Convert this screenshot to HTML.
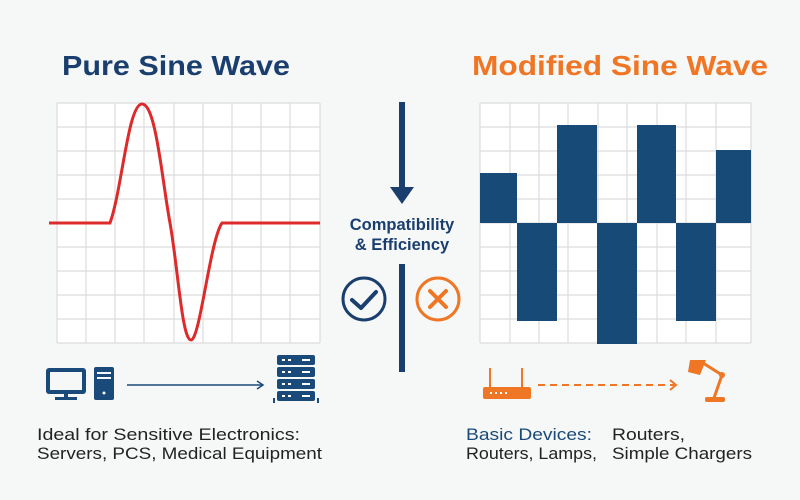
<!DOCTYPE html>
<html><head><style>
body{margin:0;width:800px;height:500px;background:#f6f7f7;overflow:hidden;}
svg{display:block}
</style></head><body>
<svg width="800" height="500" viewBox="0 0 800 500" xmlns="http://www.w3.org/2000/svg">
<rect width="800" height="500" fill="#f6f7f7"/>
<g font-family="Liberation Sans, sans-serif">
<text x="62" y="75" font-size="28" font-weight="bold" fill="#1a3f6e" textLength="228" lengthAdjust="spacingAndGlyphs">Pure Sine Wave</text>
<text x="472" y="75" font-size="28" font-weight="bold" fill="#ef7624" textLength="296" lengthAdjust="spacingAndGlyphs">Modified Sine Wave</text>
</g>
<!-- left grid -->
<rect x="57" y="103" width="263" height="240" fill="#fff"/>
<g stroke="#dcdcdc" stroke-width="1.2">
<line x1="57" y1="103" x2="57" y2="343"/><line x1="86" y1="103" x2="86" y2="343"/><line x1="115" y1="103" x2="115" y2="343"/><line x1="144" y1="103" x2="144" y2="343"/><line x1="174" y1="103" x2="174" y2="343"/><line x1="203" y1="103" x2="203" y2="343"/><line x1="232" y1="103" x2="232" y2="343"/><line x1="261" y1="103" x2="261" y2="343"/><line x1="290" y1="103" x2="290" y2="343"/><line x1="320" y1="103" x2="320" y2="343"/>
<line x1="57" y1="103" x2="320" y2="103"/><line x1="57" y1="127" x2="320" y2="127"/><line x1="57" y1="151" x2="320" y2="151"/><line x1="57" y1="175" x2="320" y2="175"/><line x1="57" y1="199" x2="320" y2="199"/><line x1="57" y1="247" x2="320" y2="247"/><line x1="57" y1="271" x2="320" y2="271"/><line x1="57" y1="295" x2="320" y2="295"/><line x1="57" y1="319" x2="320" y2="319"/><line x1="57" y1="343" x2="320" y2="343"/>
</g>
<path d="M49 223 L110 223 C122 190,128 104,142 104 C156 104,162 180,170 223 C178 268,182 340,191 340 C200 340,210 240,222 223 L320 223" fill="none" stroke="#dd2a2a" stroke-width="3"/>
<!-- right grid -->
<rect x="480" y="103" width="271" height="240" fill="#fff"/>
<g stroke="#dcdcdc" stroke-width="1.2">
<line x1="480" y1="103" x2="480" y2="343"/><line x1="510" y1="103" x2="510" y2="343"/><line x1="539" y1="103" x2="539" y2="343"/><line x1="568" y1="103" x2="568" y2="343"/><line x1="598" y1="103" x2="598" y2="343"/><line x1="627" y1="103" x2="627" y2="343"/><line x1="657" y1="103" x2="657" y2="343"/><line x1="686" y1="103" x2="686" y2="343"/><line x1="716" y1="103" x2="716" y2="343"/><line x1="751" y1="103" x2="751" y2="343"/>
<line x1="480" y1="103" x2="751" y2="103"/><line x1="480" y1="127" x2="751" y2="127"/><line x1="480" y1="151" x2="751" y2="151"/><line x1="480" y1="175" x2="751" y2="175"/><line x1="480" y1="199" x2="751" y2="199"/><line x1="480" y1="223" x2="751" y2="223"/><line x1="480" y1="247" x2="751" y2="247"/><line x1="480" y1="271" x2="751" y2="271"/><line x1="480" y1="295" x2="751" y2="295"/><line x1="480" y1="319" x2="751" y2="319"/><line x1="480" y1="343" x2="751" y2="343"/>
</g>
<g fill="#184a78">
<rect x="480" y="173" width="37" height="50"/>
<rect x="517" y="223" width="40" height="98"/>
<rect x="557" y="125" width="40" height="98"/>
<rect x="597" y="223" width="40" height="121"/>
<rect x="637" y="125" width="39" height="98"/>
<rect x="676" y="223" width="40" height="98"/>
<rect x="716" y="150" width="35" height="73"/>
</g>
<!-- center -->
<rect x="399" y="102" width="6" height="88" fill="#1a3f6e"/>
<polygon points="390,187 414,187 402,204" fill="#1a3f6e"/>
<text x="402" y="230" text-anchor="middle" font-family="Liberation Sans, sans-serif" font-size="16.5" font-weight="bold" fill="#1a3f6e">Compatibility</text>
<text x="402" y="250" text-anchor="middle" font-family="Liberation Sans, sans-serif" font-size="16.5" font-weight="bold" fill="#1a3f6e">&amp; Efficiency</text>
<rect x="399" y="264" width="6" height="108" fill="#1a3f6e"/>
<circle cx="364" cy="299" r="21" fill="none" stroke="#1a3f6e" stroke-width="3"/>
<path d="M352 300 L361 308 L376 292" fill="none" stroke="#1a3f6e" stroke-width="4" stroke-linecap="round" stroke-linejoin="round"/>
<circle cx="438" cy="299" r="21" fill="none" stroke="#ef7624" stroke-width="3"/>
<path d="M430 291 L446 307 M446 291 L430 307" stroke="#ef7624" stroke-width="4" stroke-linecap="round"/>
<!-- bottom left icons -->
<g fill="#1a4a7a">
<rect x="46" y="368" width="40" height="26" rx="3"/>
<rect x="64" y="393" width="4" height="5"/>
<rect x="55" y="397" width="22" height="3"/>
<rect x="94" y="367" width="20" height="33" rx="2"/>
</g>
<rect x="50" y="372" width="32" height="18" fill="#f6f7f7"/>
<rect x="97" y="372" width="14" height="2" fill="#f6f7f7"/>
<rect x="97" y="377" width="14" height="2" fill="#f6f7f7"/>
<circle cx="104" cy="393" r="1.5" fill="#f6f7f7"/>
<line x1="127" y1="385" x2="262" y2="385" stroke="#1a4a7a" stroke-width="1.5"/>
<path d="M257 381 L263 385 L257 389" fill="none" stroke="#1a4a7a" stroke-width="1.5"/>
<g fill="#1a4a7a">
<rect x="277" y="355" width="38" height="10" rx="2"/>
<rect x="277" y="367" width="38" height="10" rx="2"/>
<rect x="277" y="379" width="38" height="10" rx="2"/>
<rect x="277" y="391" width="38" height="10" rx="2"/>
<rect x="273" y="398" width="2" height="5"/><rect x="317" y="398" width="2" height="5"/>
</g>
<g fill="#fff"><rect x="282" y="359" width="3" height="2"/><rect x="288" y="359" width="3" height="2"/><rect x="282" y="371" width="3" height="2"/><rect x="288" y="371" width="3" height="2"/><rect x="282" y="383" width="3" height="2"/><rect x="288" y="383" width="3" height="2"/><rect x="282" y="395" width="3" height="2"/><rect x="288" y="395" width="3" height="2"/><rect x="302" y="359" width="8" height="2"/><rect x="302" y="371" width="8" height="2"/><rect x="302" y="383" width="8" height="2"/><rect x="302" y="395" width="8" height="2"/></g>
<!-- bottom right icons -->
<g fill="#ef7624">
<rect x="483" y="387" width="48" height="12" rx="2"/>
<rect x="489" y="368" width="2" height="20"/><rect x="521" y="368" width="2" height="20"/>
</g>
<g fill="#fff"><rect x="490" y="392" width="2" height="2"/><rect x="495" y="392" width="2" height="2"/><rect x="500" y="392" width="2" height="2"/><rect x="505" y="392" width="2" height="2"/></g>
<line x1="538" y1="385" x2="674" y2="385" stroke="#ef7624" stroke-width="2" stroke-dasharray="7,5"/>
<path d="M670 380 L676 385 L670 390" fill="none" stroke="#ef7624" stroke-width="2"/>
<g fill="#ef7624" stroke="#ef7624">
<polygon points="690,360 706,360 700,375 688,372" stroke="none"/>
<line x1="703" y1="363" x2="722" y2="375" stroke-width="3"/>
<line x1="722" y1="375" x2="714" y2="398" stroke-width="3"/>
<circle cx="722" cy="375" r="3" stroke="none"/>
<rect x="705" y="397" width="20" height="5" rx="2" stroke="none"/>
</g>
<!-- text -->
<g font-family="Liberation Sans, sans-serif" font-size="17" fill="#222">
<text x="37" y="440" textLength="263" lengthAdjust="spacingAndGlyphs">Ideal for Sensitive Electronics:</text>
<text x="37" y="459" textLength="285" lengthAdjust="spacingAndGlyphs">Servers, PCS, Medical Equipment</text>
<text x="466" y="440" fill="#1a4a7a" textLength="126" lengthAdjust="spacingAndGlyphs">Basic Devices:</text>
<text x="612" y="440" textLength="73" lengthAdjust="spacingAndGlyphs">Routers,</text>
<text x="466" y="459" textLength="131" lengthAdjust="spacingAndGlyphs">Routers, Lamps,</text>
<text x="612" y="459" textLength="140" lengthAdjust="spacingAndGlyphs">Simple Chargers</text>
</g>
</svg>
</body></html>
